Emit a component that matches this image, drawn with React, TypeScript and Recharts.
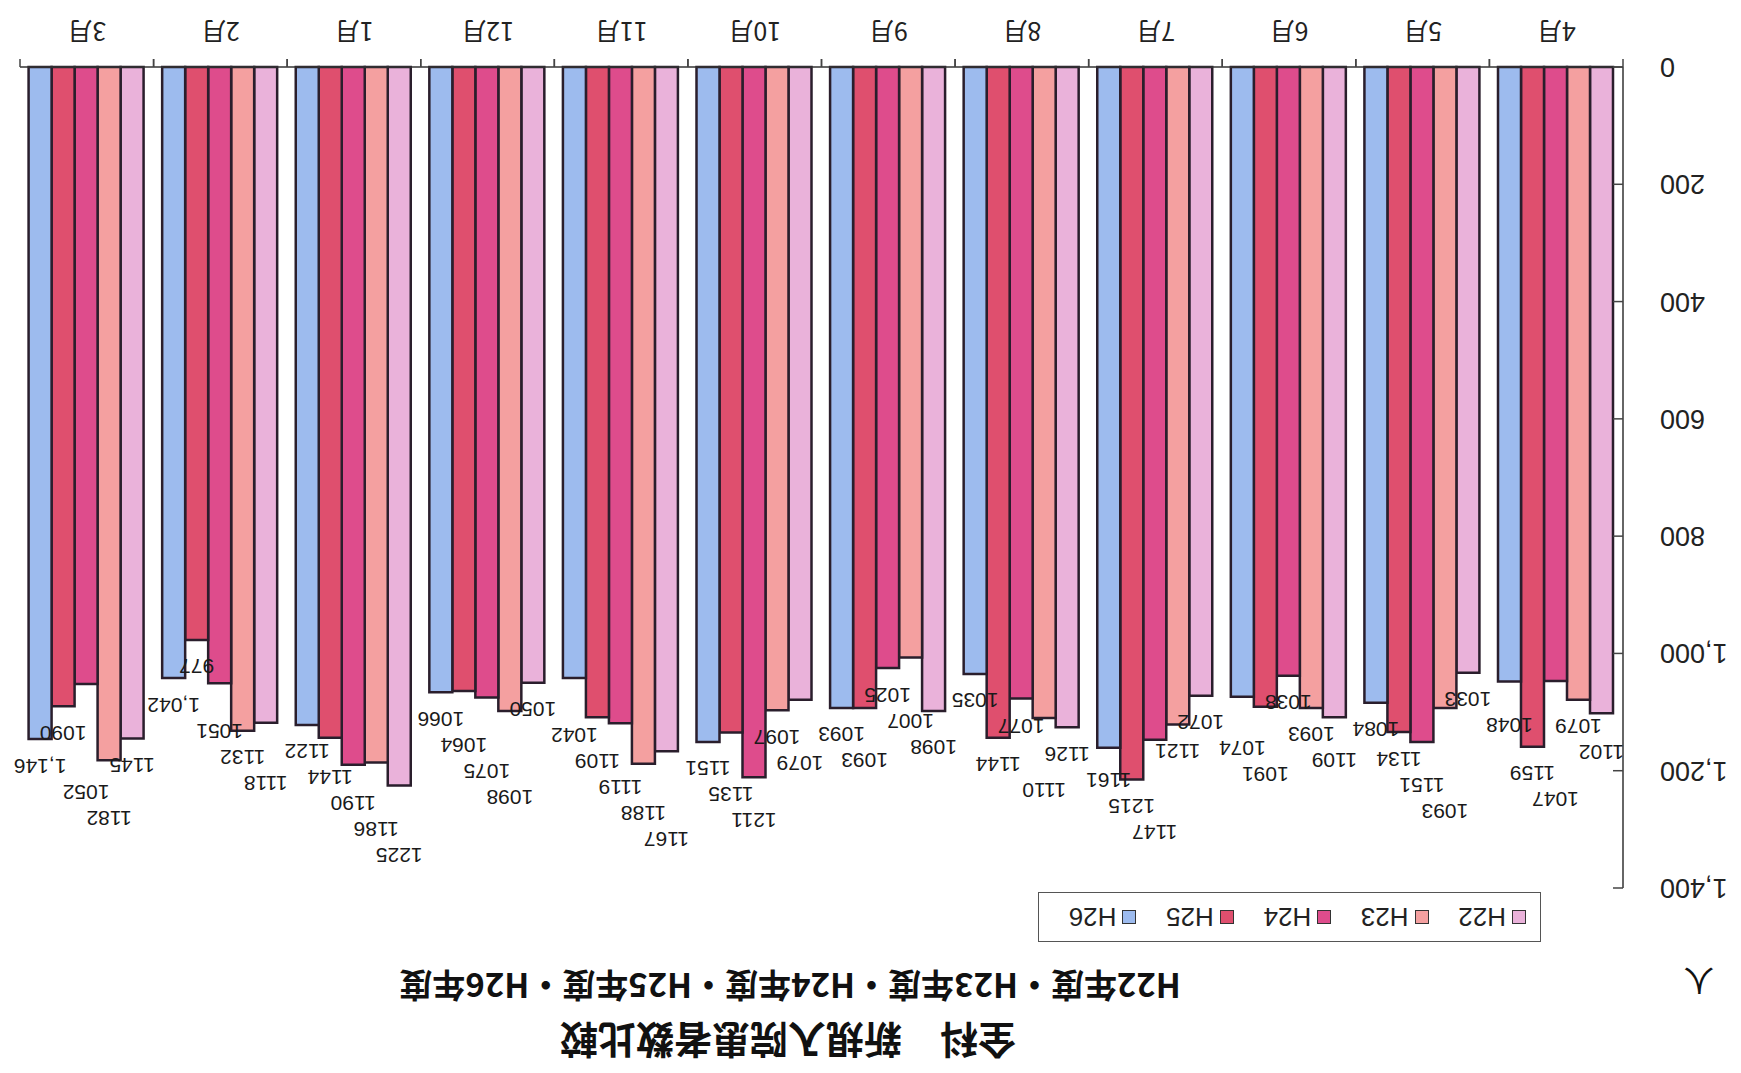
import React from 'react';
import { BarChart, Bar, XAxis, YAxis, Legend, LabelList } from 'recharts';

// 月別 新規入院患者数（人）
const months = ['4月', '5月', '6月', '7月', '8月', '9月', '10月', '11月', '12月', '1月', '2月', '3月'];
const h22 = [1102, 1033, 1109, 1072, 1126, 1098, 1079, 1167, 1050, 1225, 1118, 1145];
const h23 = [1079, 1093, 1093, 1121, 1110, 1007, 1097, 1188, 1098, 1186, 1132, 1182];
const h24 = [1047, 1151, 1038, 1147, 1077, 1025, 1211, 1119, 1075, 1190, 1051, 1052];
const h25 = [1159, 1134, 1091, 1215, 1144, 1093, 1135, 1109, 1064, 1144, 977, 1090];
const h26 = [1048, 1084, 1074, 1161, 1035, 1093, 1151, 1042, 1066, 1122, 1042, 1146];
const yTicks = [0, 200, 400, 600, 800, 1000, 1200, 1400];
const seriesNames = ['H22', 'H23', 'H24', 'H25', 'H26'];
const seriesColors = ['#eab2da', '#f4a0a0', '#de4c8c', '#df4f6e', '#9dbbee'];
// H26 の2月・3月だけ桁区切り付きで表示されている
const commaMonths = ['2月', '3月'];

const allSeries = [h22, h23, h24, h25, h26];

const data = months.map((month, i) => ({
  month,
  H22: h22[i],
  H23: h23[i],
  H24: h24[i],
  H25: h25[i],
  H26: h26[i],
}));

const numFont = '"Liberation Sans", Arial, sans-serif';
const jpFont = '"Noto Sans CJK JP", "Noto Sans", sans-serif';

const CAT_GAP = 10;
const LABEL_SIZE = 21;
const LABEL_GAP = 27;
const LABEL_H = 26;

const labelText = (s: number, m: number) => {
  const v = allSeries[s][m];
  return s === 4 && commaMonths.includes(months[m]) ? v.toLocaleString('en-US') : String(v);
};

// ラベルが重ならないように、右側（3月・H26）から順に置いて上へずらす
const makeLabel = (s: number) => (props: any) => {
  const { x, y, width, height, index, value } = props;
  if (value == null || !height) return null;
  const k = height / value;
  const band = width * allSeries.length + CAT_GAP * 2;
  const placed: { cx: number; cy: number; w: number }[] = [];
  let mine = y - LABEL_GAP;
  for (let m = months.length - 1; m >= 0; m--) {
    for (let j = allSeries.length - 1; j >= 0; j--) {
      const cx = (m - index) * band + (j - s) * width;
      const w = labelText(j, m).length * LABEL_SIZE * 0.56;
      let cy = y + (value - allSeries[j][m]) * k - LABEL_GAP;
      let moved = true;
      let guard = 0;
      while (moved && guard < 20) {
        moved = false;
        guard++;
        for (const p of placed) {
          if (Math.abs(cx - p.cx) < (w + p.w) / 2 + 1 && Math.abs(cy - p.cy) < LABEL_H) {
            cy = p.cy - LABEL_H;
            moved = true;
          }
        }
      }
      placed.push({ cx, cy, w });
      if (m === index && j === s) mine = cy;
    }
  }
  return (
    <text
      x={x + width / 2}
      y={mine}
      textAnchor="middle"
      dominantBaseline="central"
      fontSize={LABEL_SIZE}
      fontFamily={numFont}
      fill="#1a1a1a"
    >
      {labelText(s, index)}
    </text>
  );
};

const MonthTick = (props: any) => {
  const { x, y, payload, width, visibleTicksCount } = props;
  const band = (typeof width === 'number' ? width : 1603) / (visibleTicksCount || 12);
  return (
    <g>
      <line x1={x - band / 2} x2={x - band / 2} y1={y} y2={y + 8} stroke="#444" strokeWidth={1.5} />
      <line x1={x + band / 2} x2={x + band / 2} y1={y} y2={y + 8} stroke="#444" strokeWidth={1.5} />
      <text x={x} y={y + 34} textAnchor="middle" dominantBaseline="central" fontSize={25} fontFamily={jpFont} fill="#222">
        {payload.value}
      </text>
    </g>
  );
};

const ValueTick = (props: any) => {
  const { x, y, payload } = props;
  return (
    <g>
      <line x1={x} x2={x + 10} y1={y} y2={y} stroke="#444" strokeWidth={1.5} />
      <text x={x - 37} y={y} textAnchor="end" dominantBaseline="central" fontSize={27} fontFamily={numFont} fill="#222">
        {payload.value.toLocaleString('en-US')}
      </text>
    </g>
  );
};

const renderLegend = (props: any) => {
  const { payload } = props;
  return (
    <div
      style={{
        width: 503,
        height: 50,
        boxSizing: 'border-box',
        border: '1.5px solid #555',
        background: '#fff',
        display: 'flex',
        alignItems: 'center',
        paddingLeft: 14,
      }}
    >
      {(payload || []).map((entry: any) => (
        <div key={entry.value} style={{ width: 97.5, display: 'flex', alignItems: 'center' }}>
          <span
            style={{
              display: 'inline-block',
              width: 14,
              height: 14,
              boxSizing: 'border-box',
              background: entry.color,
              border: '1.5px solid #333',
              marginRight: 6,
            }}
          />
          <span style={{ fontSize: 26, fontFamily: numFont, color: '#222', lineHeight: 1 }}>{entry.value}</span>
        </div>
      ))}
    </div>
  );
};

const App: React.FC = () => {
  return (
    <div
      style={{
        position: 'absolute',
        left: 0,
        top: 0,
        width: 1741,
        height: 1073,
        background: '#fff',
        overflow: 'hidden',
        transform: 'rotate(180deg)',
      }}
    >
      <div
        style={{
          position: 'absolute',
          left: 553,
          top: 12,
          width: 800,
          textAlign: 'center',
          fontSize: 38,
          lineHeight: '38px',
          fontWeight: 700,
          fontFamily: jpFont,
          color: '#111',
        }}
      >
        全科　新規入院患者数比較
      </div>
      <div
        style={{
          position: 'absolute',
          left: 501,
          top: 69,
          width: 900,
          textAlign: 'center',
          fontSize: 33,
          lineHeight: '34px',
          fontWeight: 700,
          fontFamily: jpFont,
          color: '#111',
        }}
      >
        H22年度・H23年度・H24年度・H25年度・H26年度
      </div>
      <div
        style={{
          position: 'absolute',
          left: 27,
          top: 74,
          fontSize: 30,
          lineHeight: '32px',
          fontFamily: jpFont,
          color: '#111',
        }}
      >
        人
      </div>
      <BarChart
        width={1741}
        height={1073}
        data={data}
        margin={{ top: 185, right: 20, bottom: 0, left: 0 }}
        barCategoryGap={CAT_GAP}
        barGap={0}
      >
        <XAxis
          dataKey="month"
          height={67}
          interval={0}
          tickLine={false}
          tickSize={0}
          tickMargin={0}
          axisLine={{ stroke: '#333', strokeWidth: 1.5 }}
          tick={<MonthTick />}
        />
        <YAxis
          width={118}
          domain={[0, 1400]}
          ticks={yTicks}
          interval={0}
          tickLine={false}
          tickSize={0}
          tickMargin={0}
          axisLine={{ stroke: '#333', strokeWidth: 1.5 }}
          tick={<ValueTick />}
        />
        <Legend
          layout="horizontal"
          align="center"
          verticalAlign="middle"
          content={renderLegend}
          wrapperStyle={{ left: 200, top: 131, width: 503, height: 50 }}
        />
        {seriesNames.map((name, s) => (
          <Bar
            key={name}
            dataKey={name}
            fill={seriesColors[s]}
            stroke="#2a1e2c"
            strokeWidth={2.5}
            isAnimationActive={false}
          >
            <LabelList dataKey={name} content={makeLabel(s)} />
          </Bar>
        ))}
      </BarChart>
    </div>
  );
};

export default App;
